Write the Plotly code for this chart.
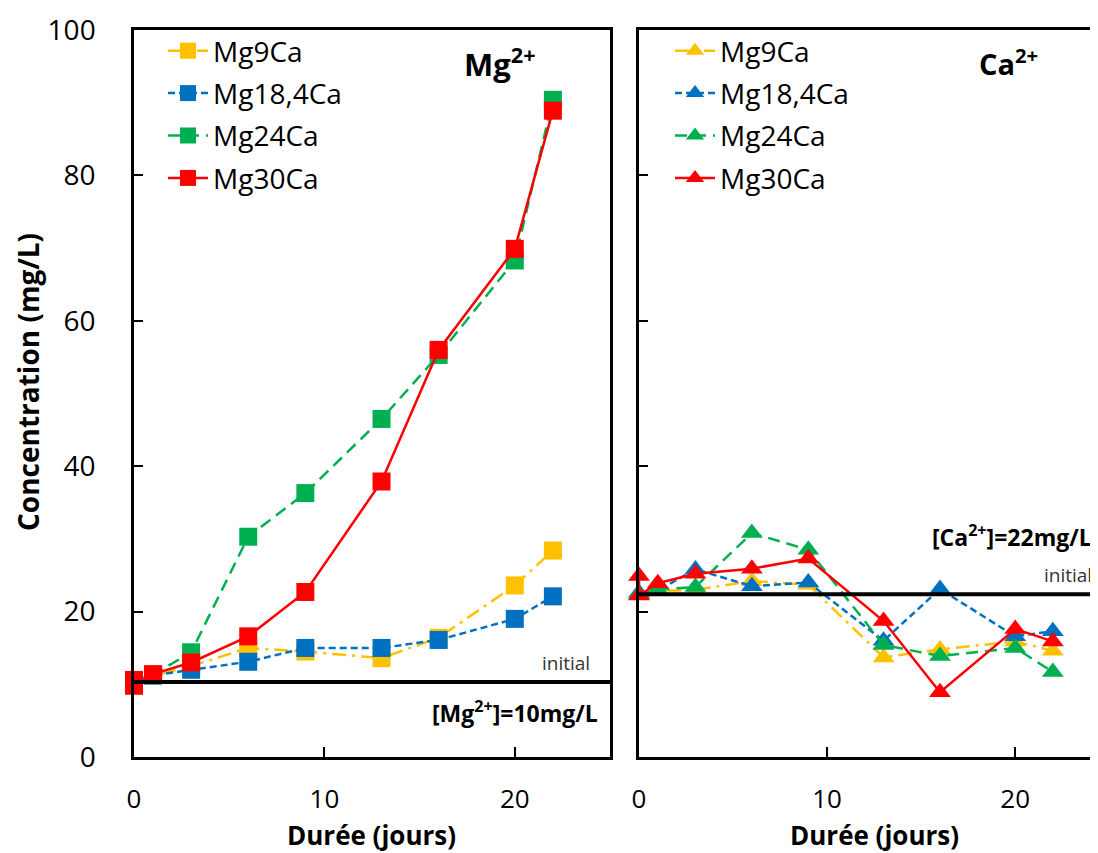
import plotly.graph_objects as go

# ---------------- data ----------------
series_names = ["Mg9Ca", "Mg18,4Ca", "Mg24Ca", "Mg30Ca"]
series_colors = ["#FFC000", "#0070C0", "#00B050", "#FF0000"]

days = [0, 1, 3, 6, 9, 13, 16, 20, 22]
days_mg30 = [0, 0, 1, 3, 6, 9, 13, 16, 20, 22]

# Mg2+ concentration (mg/L)
mg_Mg9Ca = [10.5, 11.2, 12.5, 15.0, 14.5, 13.6, 16.4, 23.6, 28.4]
mg_Mg18_4Ca = [10.5, 11.2, 12.0, 13.1, 15.0, 15.0, 16.1, 19.0, 22.1]
mg_Mg24Ca = [10.5, 11.3, 14.4, 30.3, 36.3, 46.5, 55.3, 68.3, 90.4]
mg_Mg30Ca = [10.6, 9.8, 11.4, 13.0, 16.6, 22.7, 37.9, 56.0, 69.9, 88.9]

# Ca2+ concentration (mg/L)
ca_Mg9Ca = [22.3, 22.8, 23.0, 24.2, 23.7, 13.7, 14.8, 15.9, 14.6]
ca_Mg18_4Ca = [22.6, 22.9, 25.8, 23.5, 24.0, 16.0, 23.1, 16.6, 17.3]
ca_Mg24Ca = [22.4, 23.0, 23.4, 30.8, 28.5, 15.4, 13.9, 15.0, 11.7]
ca_Mg30Ca = [24.9, 22.2, 23.9, 25.2, 25.9, 27.3, 18.7, 8.9, 17.6, 15.9]

initial_mg = 10.3
initial_ca = 22.4

x_ticks = [0, 10, 20]
y_ticks = [0, 20, 40, 60, 80, 100]

# ---------------- styles ----------------
PAGE_W, PAGE_H = 1098, 853
OFF = 8  # page body margin
W, H = PAGE_W - OFF, PAGE_H - OFF
TOP, BOTTOM = 30, 757  # page pixels of plot area
FONT = "Open Sans"
dashes = ["14px,6px,3px,6px", "7px,4px", "12px,7px", "solid"]


def px(xp):
    return (xp - OFF) / W


def py(yp):
    return (BOTTOM - yp) / (BOTTOM - TOP)


fig = go.Figure()

mg_sets = [(days, mg_Mg9Ca), (days, mg_Mg18_4Ca), (days, mg_Mg24Ca), (days_mg30, mg_Mg30Ca)]
ca_sets = [(days, ca_Mg9Ca), (days, ca_Mg18_4Ca), (days, ca_Mg24Ca), (days_mg30, ca_Mg30Ca)]

for i, (name, col) in enumerate(zip(series_names, series_colors)):
    xs, ys = mg_sets[i]
    fig.add_trace(go.Scatter(
        x=xs, y=ys, name=name, mode="lines+markers",
        line=dict(color=col, width=2.5, dash=dashes[i]),
        marker=dict(symbol="square", size=18, color=col),
        xaxis="x", yaxis="y", legend="legend", legendgroup="mg" + str(i),
        cliponaxis=False,
    ))
for i, (name, col) in enumerate(zip(series_names, series_colors)):
    xs, ys = ca_sets[i]
    fig.add_trace(go.Scatter(
        x=xs, y=ys, name=name, mode="lines+markers",
        line=dict(color=col, width=2.5, dash=dashes[i]),
        marker=dict(symbol="triangle-up", size=19, color=col),
        xaxis="x2", yaxis="y2", legend="legend2", legendgroup="ca" + str(i),
        cliponaxis=False,
    ))

axis_common = dict(
    showgrid=False, zeroline=False, showline=True, linecolor="black", linewidth=2.5,
    ticks="inside", tickcolor="black", tickwidth=1.5, automargin=False,
)

fig.update_layout(
    width=W, height=H,
    margin=dict(l=0, r=0, t=TOP - OFF, b=PAGE_H - BOTTOM, pad=0),
    plot_bgcolor="white", paper_bgcolor="white",
    font=dict(family=FONT, color="black"),
    xaxis=dict(domain=[px(134), px(610)], range=[0, 25], tickvals=x_ticks, ticklen=10,
               mirror=True, anchor="y", tickfont=dict(size=26), ticklabelstandoff=17,
               **axis_common),
    yaxis=dict(domain=[0, 1], range=[0, 100], tickvals=y_ticks, ticklen=9,
               mirror=True, anchor="x", tickfont=dict(size=28), ticklabelstandoff=30,
               **axis_common),
    xaxis2=dict(domain=[px(639), 1.0], range=[0, 24.4], tickvals=x_ticks, ticklen=10,
                mirror=True, anchor="y2", tickfont=dict(size=26), ticklabelstandoff=17,
                **axis_common),
    yaxis2=dict(domain=[0, 1], range=[0, 100], tickvals=y_ticks, ticklen=9,
                mirror=False, anchor="x2", showticklabels=False, **axis_common),
    legend=dict(x=px(163), y=py(26), xanchor="left", yanchor="top",
                bgcolor="rgba(0,0,0,0)", font=dict(size=28, family=FONT),
                traceorder="grouped", tracegroupgap=3, itemwidth=40),
    legend2=dict(x=px(670), y=py(26), xanchor="left", yanchor="top",
                 bgcolor="rgba(0,0,0,0)", font=dict(size=28, family=FONT),
                 traceorder="grouped", tracegroupgap=3, itemwidth=40),
    showlegend=True,
)

# initial level lines
fig.add_shape(type="line", xref="x domain", yref="y", x0=0, x1=1, y0=initial_mg, y1=initial_mg,
              line=dict(color="black", width=4))
fig.add_shape(type="line", xref="x2 domain", yref="y2", x0=0, x1=1, y0=initial_ca, y1=initial_ca,
              line=dict(color="black", width=4))

ann = [
    dict(text="<b>Mg<sup>2+</sup></b>", x=px(500), y=py(62), size=31, xanchor="center"),
    dict(text="<b>Ca<sup>2+</sup></b>", x=px(1008), y=py(62), size=29, xanchor="center"),
    dict(text="<b>[Mg<sup>2+</sup>]=10mg/L</b>", x=px(599), y=py(712), size=23, xanchor="right"),
    dict(text="initial", x=px(591), y=py(663), size=19, xanchor="right", color="#333333"),
    dict(text="<b>[Ca<sup>2+</sup>]=22mg/L</b>", x=px(1093), y=py(536), size=23, xanchor="right"),
    dict(text="initial", x=px(1093), y=py(575), size=19, xanchor="right", color="#333333"),
    dict(text="<b>Durée (jours)</b>", x=px(371), y=py(835), size=26, xanchor="center"),
    dict(text="<b>Durée (jours)</b>", x=px(874), y=py(835), size=26, xanchor="center"),
]
for a in ann:
    fig.add_annotation(text=a["text"], x=a["x"], y=a["y"], xref="paper", yref="paper",
                       xanchor=a["xanchor"], yanchor="middle", showarrow=False, borderpad=0,
                       font=dict(size=a["size"], family=FONT, color=a.get("color", "black")))

fig.add_annotation(text="<b>Concentration (mg/L)</b>", x=px(28), y=py(382), xref="paper", yref="paper",
                   textangle=-90, showarrow=False, xanchor="center", yanchor="middle", borderpad=0,
                   font=dict(size=28, family=FONT, color="black"))

fig.write_html("out.html")
